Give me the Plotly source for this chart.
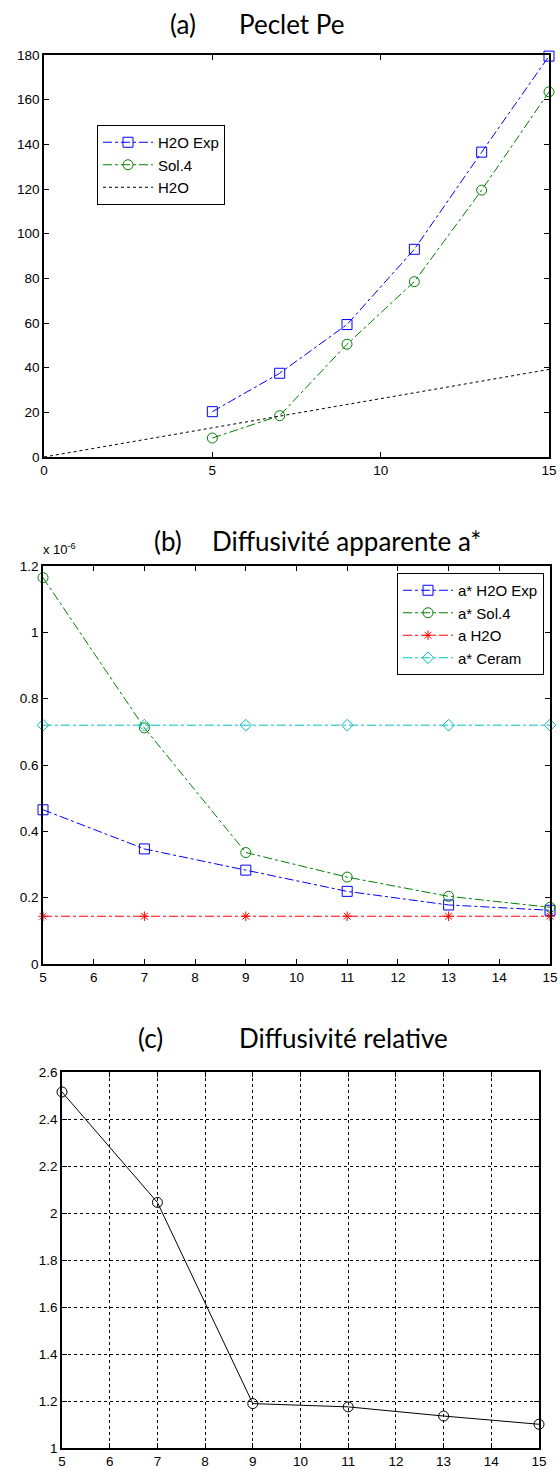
import plotly.graph_objects as go

# ---- data ----
x_a = [5, 7, 9, 11, 13, 15]
pe_h2o_exp = [20.3, 37.5, 59.3, 93.0, 136.5, 179.5]
pe_sol4 = [8.5, 18.5, 50.5, 78.5, 119.5, 163.5]
x_h2o_line = [0, 15]
pe_h2o = [0, 39.2]

x_b = [5, 7, 9, 11, 13, 15]
a_h2o_exp = [0.465, 0.347, 0.283, 0.219, 0.178, 0.162]   # x 1e-6
a_sol4 = [1.165, 0.712, 0.336, 0.262, 0.204, 0.171]
a_h2o = [0.144, 0.144, 0.144, 0.144, 0.144, 0.144]
a_ceram = [0.72, 0.72, 0.72, 0.72, 0.72, 0.72]

x_c = [5, 7, 9, 11, 13, 15]
d_rel = [2.515, 2.045, 1.189, 1.175, 1.136, 1.101]

W, H = 560, 1470
def py(p):  # pixel from top -> paper
    return 1 - p / H
def px(p):
    return p / W

tickfont = dict(family="Liberation Sans, Arial", size=13.5, color="black")
legfont = dict(family="Liberation Sans, Arial", size=15, color="black")
fig = go.Figure()

# (a)
fig.add_trace(go.Scatter(x=x_a, y=pe_h2o_exp, name="H2O Exp", mode="lines+markers",
    line=dict(color="blue", dash="dashdot", width=1),
    marker=dict(symbol="square-open", size=10, color="blue", line=dict(width=1)),
    xaxis="x", yaxis="y", legend="legend", cliponaxis=False))
fig.add_trace(go.Scatter(x=x_a, y=pe_sol4, name="Sol.4", mode="lines+markers",
    line=dict(color="green", dash="dashdot", width=1),
    marker=dict(symbol="circle-open", size=10, color="green", line=dict(width=1)),
    xaxis="x", yaxis="y", legend="legend", cliponaxis=False))
fig.add_trace(go.Scatter(x=x_h2o_line, y=pe_h2o, name="H2O", mode="lines",
    line=dict(color="black", dash="dot", width=1),
    xaxis="x", yaxis="y", legend="legend"))

# (b)
fig.add_trace(go.Scatter(x=x_b, y=a_h2o_exp, name="a* H2O Exp", mode="lines+markers",
    line=dict(color="blue", dash="dashdot", width=1),
    marker=dict(symbol="square-open", size=10, color="blue", line=dict(width=1)),
    xaxis="x2", yaxis="y2", legend="legend2", cliponaxis=False))
fig.add_trace(go.Scatter(x=x_b, y=a_sol4, name="a* Sol.4", mode="lines+markers",
    line=dict(color="green", dash="dashdot", width=1),
    marker=dict(symbol="circle-open", size=10, color="green", line=dict(width=1)),
    xaxis="x2", yaxis="y2", legend="legend2", cliponaxis=False))
fig.add_trace(go.Scatter(x=x_b, y=a_h2o, name="a H2O", mode="lines+markers",
    line=dict(color="red", dash="dashdot", width=1),
    marker=dict(symbol="asterisk-open", size=8, color="red", line=dict(width=1, color="red")),
    xaxis="x2", yaxis="y2", legend="legend2", cliponaxis=False))
fig.add_trace(go.Scatter(x=x_b, y=a_ceram, name="a* Ceram", mode="lines+markers",
    line=dict(color="#00BFBF", dash="dashdot", width=1),
    marker=dict(symbol="diamond-open", size=9, color="#00BFBF", line=dict(width=1)),
    xaxis="x2", yaxis="y2", legend="legend2", cliponaxis=False))

# (c)
fig.add_trace(go.Scatter(x=x_c, y=d_rel, name="relative", mode="lines+markers",
    line=dict(color="black", width=1),
    marker=dict(symbol="circle-open", size=10, color="black", line=dict(width=1)),
    xaxis="x3", yaxis="y3", showlegend=False, cliponaxis=False))

axis_common = dict(showline=True, linecolor="black", linewidth=1.5, mirror="ticks",
                   ticks="inside", ticklen=5, tickcolor="black", tickfont=tickfont,
                   zeroline=False, automargin=False)
grid_on = dict(showgrid=True, gridcolor="black", griddash="dot", gridwidth=1)

fig.update_layout(
    width=W, height=H, margin=dict(l=0, r=0, t=0, b=0),
    paper_bgcolor="white", plot_bgcolor="white",
    xaxis=dict(domain=[px(44), px(549)], range=[0, 15], tickvals=[0, 5, 10, 15], anchor="y",
               showgrid=False, **axis_common),
    yaxis=dict(domain=[py(457), py(55)], range=[0, 180], dtick=20, anchor="x",
               showgrid=False, **axis_common),
    xaxis2=dict(domain=[px(43), px(550)], range=[5, 15], dtick=1, anchor="y2",
                showgrid=False, **axis_common),
    yaxis2=dict(domain=[py(964), py(566)], range=[0, 1.2], tickvals=[0, 0.2, 0.4, 0.6, 0.8, 1, 1.2],
                ticktext=["0", "0.2", "0.4", "0.6", "0.8", "1", "1.2"], anchor="x2",
                showgrid=False, **axis_common),
    xaxis3=dict(domain=[px(62), px(539)], range=[5, 15], dtick=1, anchor="y3", **axis_common, **grid_on),
    yaxis3=dict(domain=[py(1448), py(1072)], range=[1, 2.6], dtick=0.2, anchor="x3",
                **axis_common, **grid_on),
    legend=dict(x=px(97), y=py(125), xanchor="left", yanchor="top",
                bordercolor="black", borderwidth=1, bgcolor="white",
                font=legfont, tracegroupgap=0, itemwidth=50),
    legend2=dict(x=px(544), y=py(573), xanchor="right", yanchor="top",
                 bordercolor="black", borderwidth=1, bgcolor="white",
                 font=legfont, tracegroupgap=0, itemwidth=50),
)

title_font = dict(family="Lato", size=26, color="black")
titles = [("(a)", 168, 24), ("Peclet Pe", 237, 24),
          ("(b)", 152, 541), ("Diffusivité apparente a*", 210, 541),
          ("(c)", 136, 1038), ("Diffusivité relative", 237, 1038)]
for txt, xx, yy in titles:
    fig.add_annotation(text=txt, x=px(xx), y=py(yy), xref="paper", yref="paper",
                       xanchor="left", yanchor="middle", showarrow=False, font=title_font)

fig.add_annotation(text="x 10<sup>-6</sup>", x=px(41), y=py(559), xref="paper", yref="paper",
                   xanchor="left", yanchor="bottom", showarrow=False,
                   font=dict(family="Liberation Sans, Arial", size=13, color="black"))

fig.write_html("out.html", config={"displayModeBar": False},
               post_script="document.body.style.margin='0px';document.body.style.overflow='hidden';")
